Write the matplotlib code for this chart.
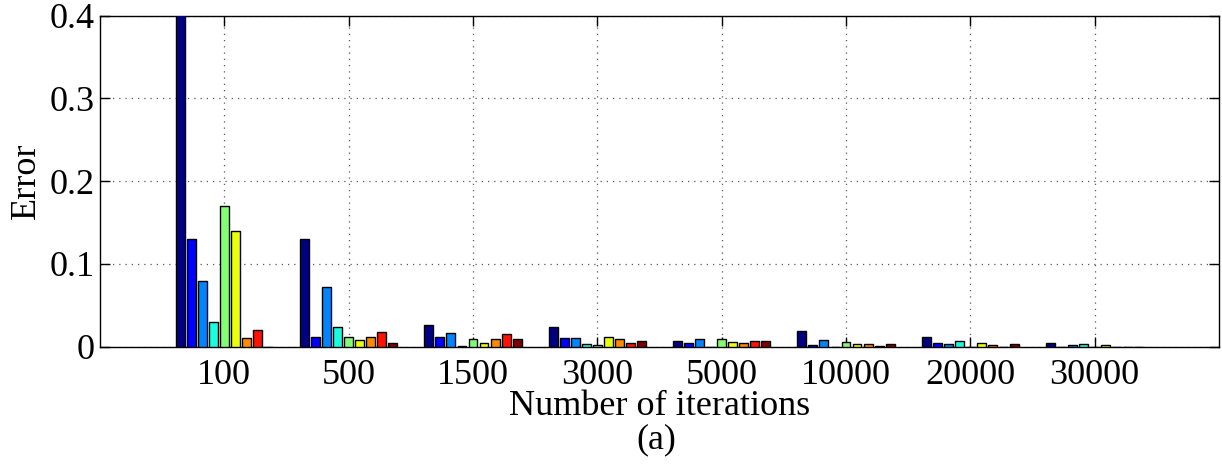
import numpy as np
import matplotlib
matplotlib.use("Agg")
import matplotlib.pyplot as plt

# Iteration counts (x categories)
iterations = ["100", "500", "1500", "3000", "5000", "10000", "20000", "30000"]

# Error of each of the nine methods, one list per method, one value per iteration count
method_1 = [0.43, 0.13, 0.026, 0.024, 0.0073, 0.019, 0.012, 0.0045]
method_2 = [0.13, 0.012, 0.0117, 0.011, 0.0045, 0.002, 0.0045, 0.0]
method_3 = [0.08, 0.072, 0.016, 0.010, 0.009, 0.0085, 0.003, 0.002]
method_4 = [0.03, 0.024, 0.0005, 0.003, 0.0, 0.0, 0.0065, 0.0033]
method_5 = [0.17, 0.012, 0.009, 0.0017, 0.0093, 0.0053, 0.0, 0.0]
method_6 = [0.14, 0.0077, 0.004, 0.0117, 0.0057, 0.0033, 0.0045, 0.002]
method_7 = [0.0105, 0.012, 0.009, 0.0093, 0.0048, 0.0033, 0.002, 0.0]
method_8 = [0.02, 0.018, 0.0153, 0.0048, 0.0069, 0.0005, 0.0, 0.0]
method_9 = [0.0, 0.004, 0.0093, 0.0069, 0.0069, 0.003, 0.0033, 0.0]

series = [method_1, method_2, method_3, method_4, method_5,
          method_6, method_7, method_8, method_9]

y_ticks = [0, 0.1, 0.2, 0.3, 0.4]
y_tick_labels = ["0", "0.1", "0.2", "0.3", "0.4"]

plt.rcParams["font.family"] = ["Liberation Serif", "DejaVu Serif"]
plt.rcParams["font.size"] = 26

fig = plt.figure(figsize=(12.22, 4.67), dpi=100)
ax = fig.add_axes([100 / 1222, 1 - 346.7 / 467, 1119 / 1222, 331 / 467])

n = len(series)
# colours picked from a 64-level jet map, one per method
jet_index = np.floor(np.arange(n) / (n - 1) * 64).clip(0, 63)
colors = plt.cm.jet(jet_index / 63)
x = np.arange(1, len(iterations) + 1)
pitch = 0.8 / n
width = pitch * 0.8

for j, vals in enumerate(series):
    ax.bar(x + (j - (n - 1) / 2) * pitch, vals, width=width,
           color=colors[j], edgecolor="black", linewidth=1.0, zorder=3)

ax.set_xlim(0, 9)
ax.set_ylim(0, 0.4)
ax.set_xticks(x)
ax.set_xticklabels(iterations)
ax.set_yticks(y_ticks)
ax.set_yticklabels(y_tick_labels)

ax.set_axisbelow(True)
ax.grid(True, linestyle=(0, (1, 4)), color="0.35", linewidth=0.9)

ax.tick_params(axis="both", direction="in", length=7, width=1.0,
               top=True, right=True)
ax.tick_params(axis="x", pad=8.5)
ax.tick_params(axis="y", pad=4)
for s in ax.spines.values():
    s.set_linewidth(1.0)

ax.set_xlabel("Number of iterations", labelpad=-1)
ax.set_ylabel("Error", labelpad=4.5)

fig.text(0.537, 0.022, "(a)", ha="center", va="bottom", fontsize=26)

fig.savefig("out.png", dpi=100)
